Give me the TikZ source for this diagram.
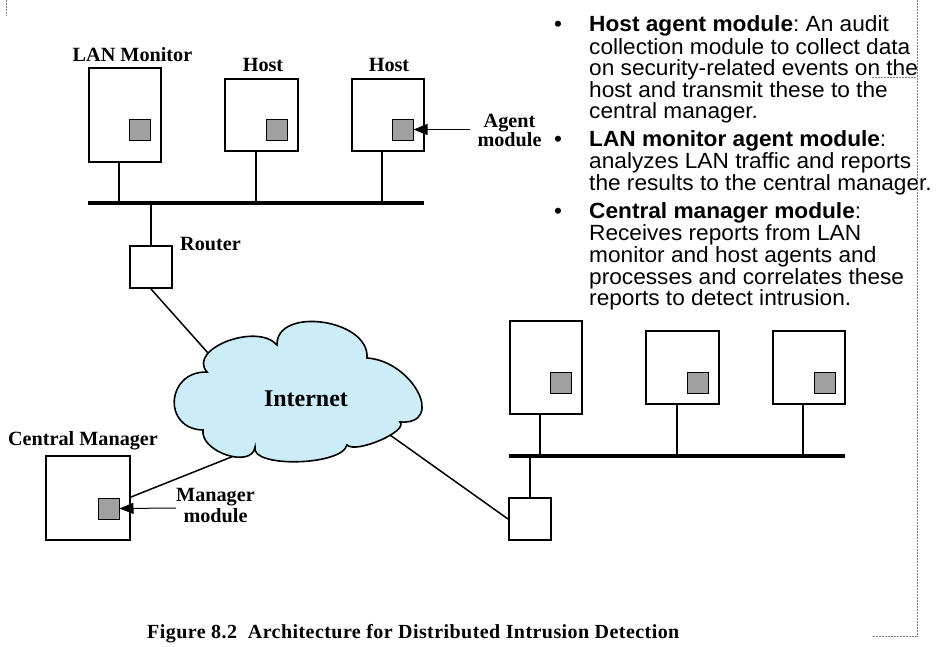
\documentclass[tikz,border=0pt]{standalone}
\usepackage{fontspec}
\setmainfont{Liberation Serif}
\newfontfamily\arialf[FakeStretch=1.03]{Liberation Sans}
\newfontfamily\capfont[LetterSpace=2.2]{Liberation Serif}
\usetikzlibrary{arrows.meta}
\definecolor{cloudblue}{RGB}{204,236,248}
\definecolor{modgray}{RGB}{160,160,160}
\definecolor{dotgray}{RGB}{128,128,128}
\tikzset{
  box/.style={draw, line width=2pt, inner sep=0pt, fill=white},
  modsq/.style={draw, line width=1pt, fill=modgray, inner sep=0pt, minimum size=21pt},
  lbl/.style={font=\fontsize{20.2}{20}\selectfont\bfseries, inner sep=0pt, anchor=base},
  bul/.style={font=\arialf\fontsize{22}{21.8}\selectfont\frenchspacing, inner sep=0pt, anchor=base west},
  busline/.style={line width=4.5pt},
  drop/.style={line width=2pt},
  wan/.style={line width=1.5pt},
  arr/.style={line width=1pt, -{Triangle[length=14pt,width=11pt]}},
  frame/.style={dotgray, line width=0.8pt, dash pattern=on 1.6pt off 1.4pt}
}
\begin{document}
\begin{tikzpicture}[x=1pt,y=-1pt]
\useasboundingbox (0,0) rectangle (938,646);

% ---------- top LAN ----------
\node[box, minimum width=72pt, minimum height=94pt] (lanmon) at (124.5,114.5) {};
\node[box, minimum width=73pt, minimum height=72pt] (hostA) at (261,114.5) {};
\node[box, minimum width=72pt, minimum height=72pt] (hostB) at (387.5,114.5) {};
\node[modsq] (gLan) at (139.5,129.5) {};
\node[modsq] (gA) at (276.5,129.5) {};
\node[modsq] (gB) at (402.5,129.5) {};
\coordinate (busAw) at (88,203);
\coordinate (busAe) at (424,203);
\draw[busline] (busAw) -- (busAe);
\draw[drop] ([xshift=-5.5pt]lanmon.south) -- ([xshift=-5.5pt]lanmon.south |- busAw);
\draw[drop] ([xshift=-5pt]hostA.south) -- ([xshift=-5pt]hostA.south |- busAw);
\draw[drop] ([xshift=-5.5pt]hostB.south) -- ([xshift=-5.5pt]hostB.south |- busAw);
\node[box, minimum size=42pt] (routerA) at (151,267) {};
\draw[drop] (routerA.north) -- (routerA.north |- busAw);

\node[lbl] (tLan) at (132.5,61.7) {LAN Monitor};
\node[lbl] (tHostA) at (263,71.7) {Host};
\node[lbl] (tHostB) at (389,71.7) {Host};
\node[lbl, anchor=base west] (tRouter) at (180,250.7) {Router};
\node[lbl] (tAgent1) at (509.5,127) {Agent};
\node[lbl] (tAgent2) at (509.5,146.5) {module};
\coordinate (agentT) at (470,129.5);
\draw[arr] (agentT) -- (gB.east);

% ---------- right LAN ----------
\node[box, minimum width=72pt, minimum height=93pt] (rmon) at (545.5,367) {};
\node[box, minimum width=73pt, minimum height=73pt] (hostC) at (682,367) {};
\node[box, minimum width=72pt, minimum height=73pt] (hostD) at (808.5,367) {};
\node[modsq] (gR) at (561,382.5) {};
\node[modsq] (gC) at (698,382.5) {};
\node[modsq] (gD) at (824.5,382.5) {};
\coordinate (busBw) at (509,456);
\coordinate (busBe) at (845,456);
\draw[busline] (busBw) -- (busBe);
\draw[drop] ([xshift=-5.5pt]rmon.south) -- ([xshift=-5.5pt]rmon.south |- busBw);
\draw[drop] ([xshift=-5pt]hostC.south) -- ([xshift=-5pt]hostC.south |- busBw);
\draw[drop] ([xshift=-5.5pt]hostD.south) -- ([xshift=-5.5pt]hostD.south |- busBw);
\node[box, minimum size=42pt] (routerB) at (530,519) {};
\draw[drop] (routerB.north) -- (routerB.north |- busBw);

% ---------- central manager ----------
\node[box, minimum size=84pt] (cm) at (88,498) {};
\node[modsq] (gCm) at (108.5,508.5) {};
\node[lbl] (tCm) at (83,445.3) {Central Manager};
\node[lbl] (tMgr1) at (215.5,501.7) {Manager};
\node[lbl] (tMgr2) at (215.5,522.7) {module};
\coordinate (mgrT) at (176,508);
\draw[arr] (mgrT) -- (gCm.east);

% ---------- WAN links (under the cloud) ----------
\coordinate (cloudA) at (216,362);
\coordinate (cloudB) at (254,448);
\coordinate (cloudC) at (390,435);
\draw[wan] (routerA.south) -- (cloudA);
\draw[wan] ([yshift=1pt]cm.east) -- (cloudB);
\draw[wan] (routerB.west) -- (cloudC);

% ---------- cloud ----------
\draw[line width=1.6pt, fill=cloudblue]
  (207,372) .. controls (187,349) and (257,322) .. (277,345)
  .. controls (276,306) and (370,319) .. (367,358)
  .. controls (413,361) and (446,425) .. (400,422)
  .. controls (409,431) and (356,454) .. (347,445)
  .. controls (342,466) and (250,468) .. (255,447)
  .. controls (252,469) and (200,452) .. (203,430)
  .. controls (162,429) and (166,371) .. (207,372) -- cycle;
\node[font=\fontsize{24}{24}\selectfont\bfseries, inner sep=0pt, anchor=base] (inet) at (306,406.7) {Internet};

% ---------- caption ----------
\node[lbl, font=\capfont\fontsize{20}{20}\selectfont\bfseries, anchor=base west] (caption) at (147,638.3) {Figure 8.2\ \ Architecture for Distributed Intrusion Detection};

% ---------- bullet text ----------
\node[bul, anchor=base] (b1) at (558,31.7) {•};
\node[bul] (l11) at (589,31.7) {\textbf{Host agent module}: An audit};
\node[bul] (l12) at (589,54) {collection module to collect data};
\node[bul] (l13) at (589,75.8) {on security-related events on the};
\node[bul] (l14) at (589,97.5) {host and transmit these to the};
\node[bul] (l15) at (589,118.8) {central manager.};
\node[bul, anchor=base] (b2) at (558,146.7) {•};
\node[bul] (l21) at (589,146.7) {\textbf{LAN monitor agent module}:};
\node[bul] (l22) at (589,168.7) {analyzes LAN traffic and reports};
\node[bul] (l23) at (589,190.5) {the results to the central manager.};
\node[bul, anchor=base] (b3) at (558,218.3) {•};
\node[bul] (l31) at (589,218.3) {\textbf{Central manager module}:};
\node[bul] (l32) at (589,240.2) {Receives reports from LAN};
\node[bul] (l33) at (589,262) {monitor and host agents and};
\node[bul] (l34) at (589,284) {processes and correlates these};
\node[bul] (l35) at (589,305.8) {reports to detect intrusion.};

% ---------- dotted frame marks ----------
\coordinate (fTop) at (917,0);
\coordinate (fCorner) at (917,636);
\coordinate (fBot) at (872,636);
\coordinate (fMidL) at (872,77);
\coordinate (fMidR) at (917,77);
\coordinate (fTL1) at (6,0);
\coordinate (fTL2) at (6,16);
\draw[frame] (fTop) -- (fCorner) -- (fBot);
\draw[frame] (fMidL) -- (fMidR);
\draw[frame] (fTL1) -- (fTL2);
\end{tikzpicture}
\end{document}
